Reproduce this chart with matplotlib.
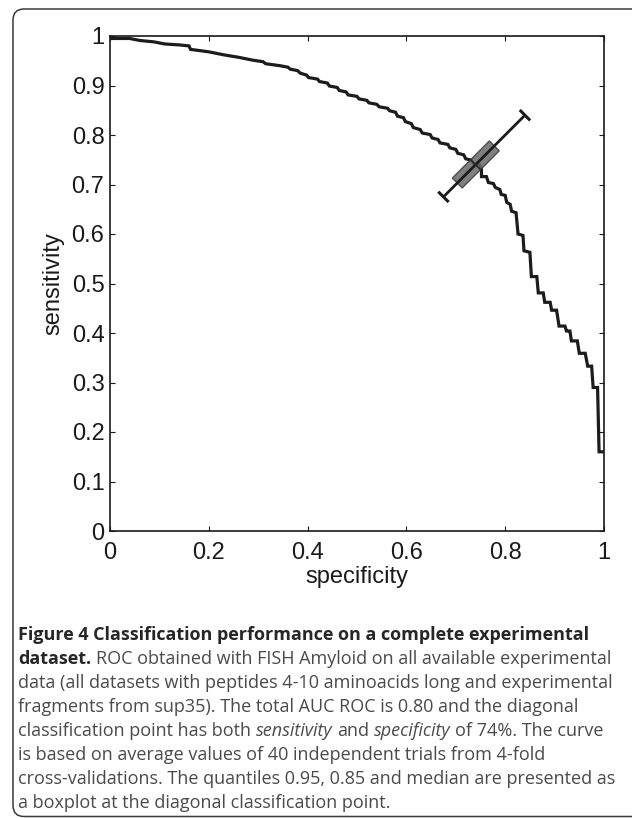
import matplotlib
matplotlib.use("Agg")
import matplotlib.pyplot as plt
import numpy as np
from matplotlib.patches import Polygon, FancyBboxPatch
from matplotlib.offsetbox import TextArea, HPacker, AnchoredOffsetbox
from matplotlib.transforms import IdentityTransform

# ---------------- data ----------------
specificity = [0.000, 0.040, 0.060, 0.090, 0.110, 0.140, 0.160, 0.163, 0.200, 0.230,
               0.260, 0.290, 0.310, 0.315, 0.344, 0.360, 0.365, 0.380, 0.385, 0.398,
               0.402, 0.420, 0.424, 0.440, 0.444, 0.460, 0.464, 0.478, 0.482, 0.500,
               0.504, 0.520, 0.524, 0.540, 0.545, 0.562, 0.566, 0.578, 0.582, 0.594,
               0.598, 0.610, 0.614, 0.628, 0.632, 0.648, 0.652, 0.664, 0.668, 0.684,
               0.688, 0.700, 0.704, 0.716, 0.720, 0.732, 0.736, 0.748, 0.752, 0.752,
               0.762, 0.766, 0.776, 0.780, 0.789, 0.792, 0.800, 0.803, 0.810, 0.813,
               0.822, 0.826, 0.836, 0.838, 0.850, 0.853, 0.864, 0.867, 0.877, 0.880,
               0.891, 0.894, 0.904, 0.909, 0.921, 0.924, 0.928, 0.931, 0.934, 0.946,
               0.950, 0.962, 0.967, 0.975, 0.978, 0.987, 0.990, 1.000]
sensitivity = [0.995, 0.995, 0.991, 0.988, 0.984, 0.982, 0.980, 0.973, 0.968, 0.962,
               0.957, 0.951, 0.948, 0.944, 0.940, 0.937, 0.933, 0.930, 0.925, 0.921,
               0.916, 0.913, 0.908, 0.905, 0.899, 0.896, 0.890, 0.887, 0.881, 0.878,
               0.873, 0.870, 0.865, 0.862, 0.857, 0.854, 0.849, 0.846, 0.838, 0.835,
               0.827, 0.823, 0.815, 0.811, 0.804, 0.801, 0.794, 0.791, 0.784, 0.781,
               0.774, 0.771, 0.763, 0.760, 0.752, 0.749, 0.742, 0.739, 0.731, 0.716,
               0.716, 0.704, 0.702, 0.694, 0.690, 0.680, 0.678, 0.664, 0.660, 0.646,
               0.643, 0.600, 0.597, 0.566, 0.563, 0.514, 0.514, 0.481, 0.481, 0.462,
               0.462, 0.446, 0.446, 0.414, 0.414, 0.404, 0.404, 0.404, 0.384, 0.384,
               0.359, 0.359, 0.333, 0.333, 0.290, 0.290, 0.160, 0.160]

# boxplot at the diagonal classification point (quantiles 0.95, 0.85, median)
box_whisker_low = 0.675
box_q_low = 0.703
box_median = 0.740
box_q_high = 0.778
box_whisker_high = 0.840

x_ticks = [0, 0.2, 0.4, 0.6, 0.8, 1]
x_ticklabels = ["0", "0.2", "0.4", "0.6", "0.8", "1"]
y_ticks = [0, 0.1, 0.2, 0.3, 0.4, 0.5, 0.6, 0.7, 0.8, 0.9, 1]
y_ticklabels = ["0", "0.1", "0.2", "0.3", "0.4", "0.5", "0.6", "0.7", "0.8", "0.9", "1"]
x_label = "specificity"
y_label = "sensitivity"

caption_lines = [
    [("Figure 4 Classification performance on a complete experimental", "bold")],
    [("dataset.", "bold"), ("ROC obtained with FISH Amyloid on all available experimental", "normal")],
    [("data (all datasets with peptides 4-10 aminoacids long and experimental", "normal")],
    [("fragments from sup35). The total AUC ROC is 0.80 and the diagonal", "normal")],
    [("classification point has both", "normal"), ("sensitivity", "italic"), ("and", "normal"),
     ("specificity", "italic"), ("of 74%. The curve", "normal")],
    [("is based on average values of 40 independent trials from 4-fold", "normal")],
    [("cross-validations. The quantiles 0.95, 0.85 and median are presented as", "normal")],
    [("a boxplot at the diagonal classification point.", "normal")],
]

# ---------------- figure ----------------
W, H = 632, 818
fig = plt.figure(figsize=(W / 100, H / 100), dpi=100)
fig.patch.set_facecolor("white")

axis_font = "Liberation Sans"
cap_font = "Open Sans"

# outer rounded frame (right side runs off the page)
frame = FancyBboxPatch((13, 1.5), 640, 807.5, boxstyle="round,pad=0,rounding_size=11",
                       transform=IdentityTransform(), facecolor="none",
                       edgecolor="#3a3a3a", linewidth=1.1, clip_on=False)
fig.add_artist(frame)

ax = fig.add_axes([110 / W, 1 - 531 / H, 494 / W, 495 / H])
ax.set_xlim(0, 1)
ax.set_ylim(0, 1)

ax.plot(specificity, sensitivity, color="#1c1c1c", lw=2.3,
        solid_joinstyle="miter", solid_capstyle="butt", zorder=3)

# diagonal boxplot
u = np.array([1.0, 1.0])
off_box = 0.0100   # half width of box (per component)
off_cap = 0.0105
v = np.array([-1.0, 1.0])
ql = box_q_low * u
qh = box_q_high * u
box = Polygon([ql + off_box * v, ql - off_box * v, qh - off_box * v, qh + off_box * v],
              closed=True, facecolor="#6a6a6a", edgecolor="#3c3c3c", lw=1.0,
              alpha=0.85, zorder=4)
ax.add_patch(box)
ax.plot([box_whisker_low, box_whisker_high], [box_whisker_low, box_whisker_high],
        color="#1c1c1c", lw=2.0, zorder=5, solid_capstyle="butt")
for w in (box_whisker_low, box_whisker_high):
    p = w * u
    a, b = p + off_cap * v, p - off_cap * v
    ax.plot([a[0], b[0]], [a[1], b[1]], color="#1c1c1c", lw=2.2, zorder=5,
            solid_capstyle="butt")
m = box_median * u
a, b = m + off_box * v, m - off_box * v
ax.plot([a[0], b[0]], [a[1], b[1]], color="#2a2a2a", lw=1.2, zorder=5)

ax.set_xticks(x_ticks)
ax.set_xticklabels(x_ticklabels)
ax.set_yticks(y_ticks)
ax.set_yticklabels(y_ticklabels)
for lab in ax.get_xticklabels() + ax.get_yticklabels():
    lab.set_fontfamily(axis_font)
    lab.set_fontsize(17)
    lab.set_color("#1a1a1a")
ax.tick_params(direction="in", length=3.8, width=0.8, top=True, right=True,
               colors="#1a1a1a")
ax.tick_params(axis="x", pad=8.0)
ax.tick_params(axis="y", pad=4.0)
for s in ax.spines.values():
    s.set_linewidth(1.2)
    s.set_color("#1a1a1a")
ax.set_xlabel(x_label, fontfamily=axis_font, fontsize=17, color="#1a1a1a", labelpad=1)
ax.set_ylabel(y_label, fontfamily=axis_font, fontsize=17, color="#1a1a1a", labelpad=5)

# ---------------- caption ----------------
cap_left = 18
cap_right = 614
renderer = fig.canvas.get_renderer()
probe = fig.text(0, 0, caption_lines[2][0][0], fontsize=10, fontfamily=cap_font)
pw = probe.get_window_extent(renderer=renderer).width
probe.remove()
cap_size = 10 * (cap_right - cap_left) / pw

styles = {
    "bold": dict(fontweight="bold", fontstyle="normal", color="#262626"),
    "normal": dict(fontweight="normal", fontstyle="normal", color="#4a4a4a"),
    "italic": dict(fontweight="normal", fontstyle="italic", color="#4a4a4a"),
}
space_pt = 0.26 * cap_size
first_baseline = 640.0
line_step = 24.0
descent_px = 0.24 * cap_size * 100 / 72
for i, segs in enumerate(caption_lines):
    kids = []
    for txt, st in segs:
        props = dict(fontsize=cap_size, fontfamily=cap_font)
        props.update(styles[st])
        kids.append(TextArea(txt, textprops=props))
    pack = HPacker(children=kids, align="baseline", pad=0, sep=space_pt)
    base_y = first_baseline + i * line_step
    anchored = AnchoredOffsetbox(loc="lower left", child=pack, pad=0, borderpad=0,
                                 frameon=False,
                                 bbox_to_anchor=(cap_left, H - base_y - descent_px),
                                 bbox_transform=IdentityTransform())
    fig.add_artist(anchored)

fig.savefig("out.png", dpi=100)
